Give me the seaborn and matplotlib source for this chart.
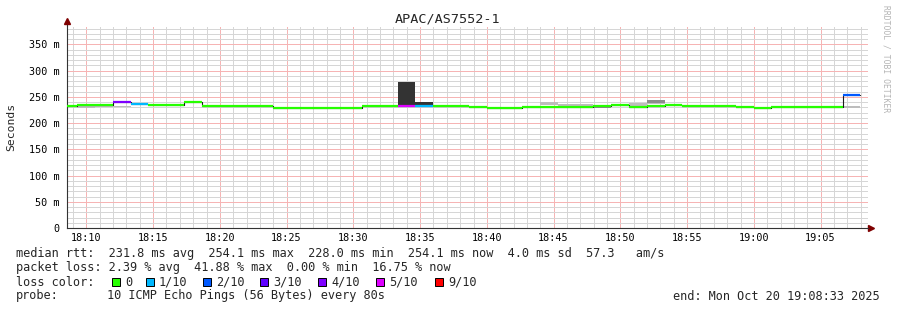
import numpy as np
import pandas as pd
import matplotlib
matplotlib.use("Agg")
import matplotlib.pyplot as plt
from matplotlib.ticker import MultipleLocator, FixedLocator
from matplotlib.patches import Rectangle
import seaborn as sns

# ---------------- data ----------------
title = "APAC/AS7552-1"
y_label = "Seconds"
graph_start = "2025-10-20 18:08:33"
graph_end = "2025-10-20 19:08:33"
first_step = "2025-10-20 18:07:59"      # start of the first (partly visible) 80 s step
step_seconds = 80

# median rtt (ms) of each 80 s step
median_ms = [232, 234, 234, 240, 235.5, 234, 234, 240, 233, 232,
             232, 232, 229.5, 228.3, 228.3, 228.3, 228.3, 232, 232, 233,
             233, 232, 232, 230.2, 228.0, 229.5, 230, 230.5, 230.5, 230.5,
             232.7, 234, 230.5, 233.4, 234, 231.8, 231.8, 231.8, 230, 229,
             230, 230, 230, 230, 254.1]
# lost pings (out of 10) of each step
loss_pings = [0, 0, 0, 3.5, 0.7, 0, 0, 0, 0, 0,
              0, 0, 0, 0, 0, 0, 0, 0, 0, 4.188,
              0.7, 0, 0, 0, 0, 0, 0, 0, 0, 0,
              0, 0, 0, 0, 0, 0, 0, 0, 0, 0,
              0, 0, 0, 0, 1.675]

# smoke (spread of the individual pings): step index, low, high, density
smoke_step = [1, 2, 3, 19, 20, 27, 28, 29, 30, 32, 33, 33, 44]
smoke_lo = [229.5, 230.5, 230.5, 234, 234.5, 234, 233, 233, 228.5, 233, 239, 235.5, 229]
smoke_hi = [232.5, 233, 233, 279, 241, 240, 236.5, 236.5, 230.5, 237.5, 244, 239, 232]
smoke_density = ["light", "light", "light", "dark", "dark", "light", "light", "light",
                 "mid", "light", "mid", "light", "light"]

loss_bins = [0, 1, 2, 3, 4, 5, 9]
loss_labels = ["0", "1/10", "2/10", "3/10", "4/10", "5/10", "9/10"]
loss_colors = ["#26ff00", "#00b8ff", "#0059ff", "#5e00ff", "#7e00ff", "#dd00ff", "#ff0000"]

xtick_labels = ["18:10", "18:15", "18:20", "18:25", "18:30", "18:35", "18:40",
                "18:45", "18:50", "18:55", "19:00", "19:05"]
ytick_values = [0, 50, 100, 150, 200, 250, 300, 350]
ytick_labels = ["0", "50 m", "100 m", "150 m", "200 m", "250 m", "300 m", "350 m"]

legend_rtt = "median rtt:  231.8 ms avg  254.1 ms max  228.0 ms min  254.1 ms now  4.0 ms sd  57.3   am/s"
legend_loss = "packet loss: 2.39 % avg  41.88 % max  0.00 % min  16.75 % now"
legend_probe = "10 ICMP Echo Pings (56 Bytes) every 80s"
legend_end = "end: Mon Oct 20 19:08:33 2025"
watermark = "RRDTOOL / TOBI OETIKER"

# ---------------- helpers ----------------
base = pd.Timestamp("2025-10-20 18:00:00")
def to_min(ts):
    return (pd.Timestamp(ts) - base).total_seconds() / 60.0

n = len(median_ms)
starts = pd.date_range(first_step, periods=n, freq=f"{step_seconds}s")
seg_start = np.array([to_min(t) for t in starts])
seg_end = seg_start + step_seconds / 60.0

def loss_color(l):
    if l == 0:
        return loss_colors[0]
    for b, c in zip(loss_bins[1:], loss_colors[1:]):
        if l <= b:
            return c
    return loss_colors[-1]

W, H = 897, 310
def fx(px):
    return px / W
def fy(py):
    return 1 - py / H

# ---------------- figure ----------------
sns.set_style("white")
plt.rcParams['font.family'] = ['DejaVu Sans Mono', 'DejaVu Sans']

fig = plt.figure(figsize=(W / 100, H / 100), dpi=100)
fig.patch.set_facecolor("white")
ax = fig.add_axes([fx(67), fy(228), (868 - 67) / W, (228 - 26) / H])

x0, x1 = to_min(graph_start), to_min(graph_end)
ax.set_xlim(x0, x1)
ax.set_ylim(0, 385)

# grid
xt = [int(s.split(":")[0]) * 60 + int(s.split(":")[1]) - 18 * 60 for s in xtick_labels]
ax.xaxis.set_major_locator(FixedLocator(xt))
ax.set_xticklabels(xtick_labels)
ax.xaxis.set_minor_locator(MultipleLocator(1))
ax.yaxis.set_major_locator(FixedLocator(ytick_values))
ax.set_yticklabels(ytick_labels)
ax.yaxis.set_minor_locator(MultipleLocator(10))
ax.set_axisbelow(True)
ax.grid(which="minor", color="#d6d6d6", linestyle=(0, (1, 1)), linewidth=0.72,
        antialiased=False)
ax.grid(which="major", color="#f6b4b4", linestyle=(0, (1, 1)), linewidth=0.72,
        antialiased=False)

for s in ["top", "right"]:
    ax.spines[s].set_visible(False)
for s in ["left", "bottom"]:
    ax.spines[s].set_color("#333333")
    ax.spines[s].set_linewidth(0.8)

ax.tick_params(which="major", length=2.5, width=0.7, direction="inout", colors="#333333",
               labelcolor="black", labelsize=7.3, pad=2)
ax.tick_params(which="minor", length=1.5, width=0.7, direction="inout", colors="#333333")
ax.tick_params(axis="y", pad=4)

# smoke
shade = {"light": "#bdbdbd", "mid": "#8c8c8c", "dark": "#333333"}
for k, lo, hi, d in zip(smoke_step, smoke_lo, smoke_hi, smoke_density):
    ax.bar(seg_start[k], hi - lo, bottom=lo, width=step_seconds / 60.0, align="edge",
           color=shade[d], linewidth=0, zorder=2)

# median step line (black) and loss-coloured median
step_x = list(seg_start) + [seg_end[-1]]
step_y = list(median_ms) + [median_ms[-1]]
sns.lineplot(x=step_x, y=step_y, drawstyle="steps-post", estimator=None,
             color="#1a1a1a", linewidth=0.8, ax=ax, zorder=3)
cols = [loss_color(l) for l in loss_pings]
ax.hlines(median_ms, seg_start, seg_end, colors=cols, linewidth=1.6,
          capstyle="butt", zorder=4)
ax.set_xlabel("")
ax.set_ylabel("")

# axis arrows
ax.plot([0, 0], [1, 1.02], color="#333333", lw=0.8, transform=ax.transAxes, clip_on=False)
ax.plot([0], [1.025], marker="^", ms=4, color="#7f0000", transform=ax.transAxes, clip_on=False)
ax.plot([1, 1.004], [0, 0], color="#333333", lw=0.8, transform=ax.transAxes, clip_on=False)
ax.plot([1.004], [0], marker=">", ms=4, color="#7f0000", transform=ax.transAxes, clip_on=False)

# texts
fig.text(fx(448), fy(19), title, ha="center", va="center", fontsize=9.7)
fig.text(fx(11), fy(127), y_label, ha="center", va="center", rotation=90, fontsize=8.2)
fig.text(fx(886), fy(59), watermark, ha="center", va="center", rotation=270,
         fontsize=5.8, color="#b4b4b4")

fs = 8.52
fig.text(fx(16), fy(254), legend_rtt, ha="left", va="center", fontsize=fs)
fig.text(fx(16), fy(268), legend_loss, ha="left", va="center", fontsize=fs)
fig.text(fx(16), fy(282), "loss color:", ha="left", va="center", fontsize=fs)
fig.text(fx(16), fy(296), "probe:", ha="left", va="center", fontsize=fs)
fig.text(fx(107), fy(296), legend_probe, ha="left", va="center", fontsize=fs)
fig.text(fx(880), fy(296), legend_end, ha="right", va="center", fontsize=fs)

box_x = [112, 146, 203, 260, 318, 376, 435]
for bx, lab, c in zip(box_x, loss_labels, loss_colors):
    fig.add_artist(Rectangle((fx(bx), fy(286)), 8 / W, 8 / H, transform=fig.transFigure,
                             facecolor=c, edgecolor="black", linewidth=0.7))
    fig.text(fx(bx + 13), fy(282), lab, ha="left", va="center", fontsize=fs)

fig.savefig("out.png", dpi=100)
